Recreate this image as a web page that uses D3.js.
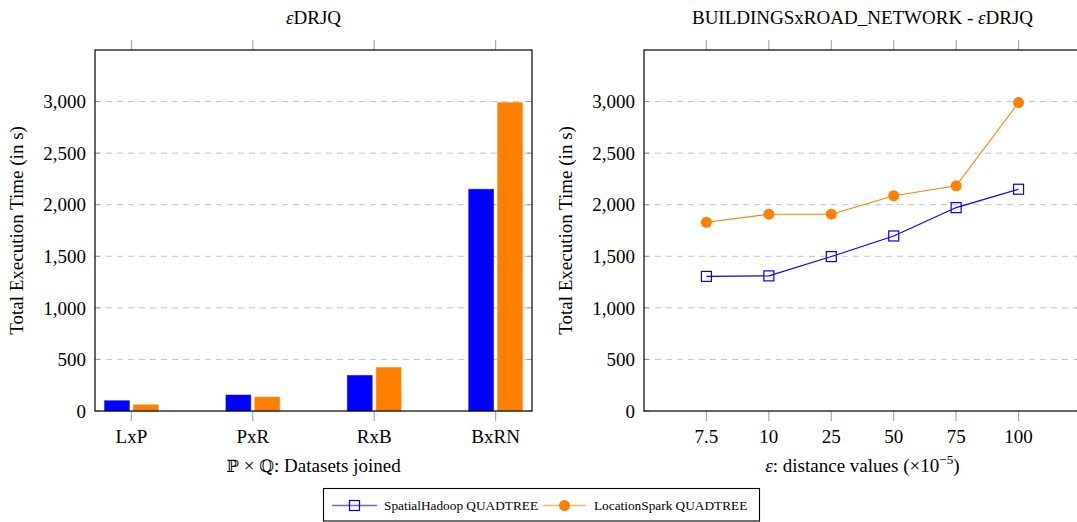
<!DOCTYPE html>
<html><head><meta charset="utf-8">
<script src="https://cdn.jsdelivr.net/npm/d3@7"></script>
<style>
html,body{margin:0;padding:0;background:#fff;}
svg{display:block;font-family:"Liberation Serif","Times New Roman",serif;}
</style></head>
<body><svg id="c" width="1077" height="522"></svg>
<script>
// ---- data ----
const barCategories = ["LxP", "PxR", "RxB", "BxRN"];
const barSpatialHadoop = [100, 155, 345, 2150];
const barLocationSpark = [60, 135, 422, 2990];

const epsCategories = ["7.5", "10", "25", "50", "75", "100"];
const lineSpatialHadoop = [1305, 1310, 1497, 1697, 1972, 2150];
const lineLocationSpark = [1830, 1908, 1908, 2087, 2183, 2990];

const yTicks = [0, 500, 1000, 1500, 2000, 2500, 3000];
const seriesNames = ["SpatialHadoop QUADTREE", "LocationSpark QUADTREE"];

const BLUE = "#0000ff", ORANGE = "#ff8000";
const FS = 19;
const svg = d3.select("#c");
const fmt = d3.format(",");

function panel(x0, x1, cats, title, xlabelFn, padding) {
  const top = 50, bottom = 411;
  const x = d3.scalePoint().domain(cats).range([x0, x1]).padding(padding);
  const y = d3.scaleLinear().domain([0, 3500]).range([bottom, top]);
  const g = svg.append("g");
  g.selectAll(".grid").data(yTicks.filter(d => d > 0)).join("line")
    .attr("x1", x0).attr("x2", x1).attr("y1", d => y(d)).attr("y2", d => y(d))
    .attr("stroke", "#c4c4c4").attr("stroke-width", 1).attr("stroke-dasharray", "6,5");
  yTicks.forEach(t => {
    g.append("line").attr("x1", x0).attr("x2", x0 + 5).attr("y1", y(t)).attr("y2", y(t)).attr("stroke", "#999");
    g.append("line").attr("x1", x1 - 5).attr("x2", x1).attr("y1", y(t)).attr("y2", y(t)).attr("stroke", "#999");
  });
  cats.forEach(c => {
    g.append("line").attr("x1", x(c)).attr("x2", x(c)).attr("y1", top).attr("y2", top - 10).attr("stroke", "#aaa").attr("stroke-width", 1.2);
    g.append("line").attr("x1", x(c)).attr("x2", x(c)).attr("y1", bottom).attr("y2", bottom + 10).attr("stroke", "#aaa").attr("stroke-width", 1.2);
  });
  g.selectAll(".yl").data(yTicks).join("text")
    .attr("x", x0 - 9).attr("y", d => y(d)).attr("dy", "0.35em")
    .attr("text-anchor", "end").attr("font-size", FS).text(d => fmt(d));
  g.selectAll(".xl").data(cats).join("text")
    .attr("x", d => x(d)).attr("y", 443)
    .attr("text-anchor", "middle").attr("font-size", FS).text(d => d);
  const t = g.append("text").attr("x", (x0 + x1) / 2).attr("y", 24).attr("text-anchor", "middle").attr("font-size", FS);
  title(t);
  const xl = g.append("text").attr("x", (x0 + x1) / 2).attr("y", 472).attr("text-anchor", "middle").attr("font-size", FS);
  xlabelFn(xl);
  g.append("text").attr("transform", `translate(${x0 - 72},${(top + bottom) / 2}) rotate(-90)`)
    .attr("text-anchor", "middle").attr("font-size", FS).text("Total Execution Time (in s)");
  return {x, y, g, top, bottom, x0, x1};
}

// ---- left: bars ----
const L = panel(95, 532, barCategories,
  t => { t.append("tspan").attr("font-style", "italic").text("ε"); t.append("tspan").text("DRJQ"); },
  t => { t.append("tspan").attr("font-family", "DejaVu Serif").attr("font-size", FS - 2).text("ℙ"); t.append("tspan").text(" × "); t.append("tspan").attr("font-family", "DejaVu Serif").attr("font-size", FS - 2).text("ℚ"); t.append("tspan").text(": Datasets joined"); },
  0.3);
const bw = L.x.step() * 0.205, off = L.x.step() * 0.119;
[[barSpatialHadoop, BLUE, -off], [barLocationSpark, ORANGE, off]].forEach(([vals, col, o]) => {
  L.g.selectAll(null).data(vals).join("rect")
    .attr("x", (d, i) => L.x(barCategories[i]) + o - bw / 2)
    .attr("width", bw)
    .attr("y", d => L.y(d)).attr("height", d => L.y(0) - L.y(d))
    .attr("fill", col).attr("stroke", col).attr("stroke-opacity", 0.5).attr("stroke-width", 1);
});
L.g.append("rect").attr("x", L.x0).attr("y", L.top).attr("width", L.x1 - L.x0).attr("height", L.bottom - L.top)
  .attr("fill", "none").attr("stroke", "#000").attr("stroke-width", 1.2);

// ---- right: lines ----
const R = panel(644, 1081, epsCategories,
  t => { t.append("tspan").text("BUILDINGSxROAD_NETWORK - "); t.append("tspan").attr("font-style", "italic").text("ε"); t.append("tspan").text("DRJQ"); },
  t => { t.append("tspan").attr("font-style", "italic").text("ε"); t.append("tspan").text(": distance values (×10"); t.append("tspan").attr("font-size", FS * 0.7).attr("dy", -8).text("−5"); t.append("tspan").attr("dy", 8).text(")"); },
  1);
const line = d3.line().x((d, i) => R.x(epsCategories[i])).y(d => R.y(d));
R.g.append("path").datum(lineLocationSpark).attr("d", line).attr("fill", "none").attr("stroke", ORANGE).attr("stroke-width", 1.1);
R.g.append("path").datum(lineSpatialHadoop).attr("d", line).attr("fill", "none").attr("stroke", BLUE).attr("stroke-width", 1.1);
R.g.selectAll(null).data(lineLocationSpark).join("circle")
  .attr("cx", (d, i) => R.x(epsCategories[i])).attr("cy", d => R.y(d)).attr("r", 5.5).attr("fill", ORANGE);
R.g.selectAll(null).data(lineSpatialHadoop).join("rect")
  .attr("x", (d, i) => R.x(epsCategories[i]) - 5).attr("y", d => R.y(d) - 5)
  .attr("width", 10).attr("height", 10).attr("fill", "none").attr("stroke", BLUE).attr("stroke-width", 1.2);
R.g.append("rect").attr("x", R.x0).attr("y", R.top).attr("width", R.x1 - R.x0).attr("height", R.bottom - R.top)
  .attr("fill", "none").attr("stroke", "#000").attr("stroke-width", 1.2);

// ---- legend ----
const lg = svg.append("g");
lg.append("rect").attr("x", 323.5).attr("y", 488.5).attr("width", 436).attr("height", 32.5).attr("fill", "#fff").attr("stroke", "#000").attr("stroke-width", 1.1);
const ly = 505.5;
lg.append("line").attr("x1", 332).attr("x2", 377).attr("y1", ly).attr("y2", ly).attr("stroke", BLUE).attr("stroke-opacity", 0.6).attr("stroke-width", 1.3);
lg.append("rect").attr("x", 354.5 - 5).attr("y", ly - 5).attr("width", 10).attr("height", 10).attr("fill", "none").attr("stroke", BLUE).attr("stroke-width", 1.2);
lg.append("text").attr("x", 384).attr("y", ly).attr("dy", "0.35em").attr("font-size", 13.3).text(seriesNames[0]);
lg.append("line").attr("x1", 543).attr("x2", 586).attr("y1", ly).attr("y2", ly).attr("stroke", ORANGE).attr("stroke-opacity", 0.6).attr("stroke-width", 1.3);
lg.append("circle").attr("cx", 564.5).attr("cy", ly).attr("r", 5.5).attr("fill", ORANGE);
lg.append("text").attr("x", 594).attr("y", ly).attr("dy", "0.35em").attr("font-size", 13.3).text(seriesNames[1]);
</script></body></html>
